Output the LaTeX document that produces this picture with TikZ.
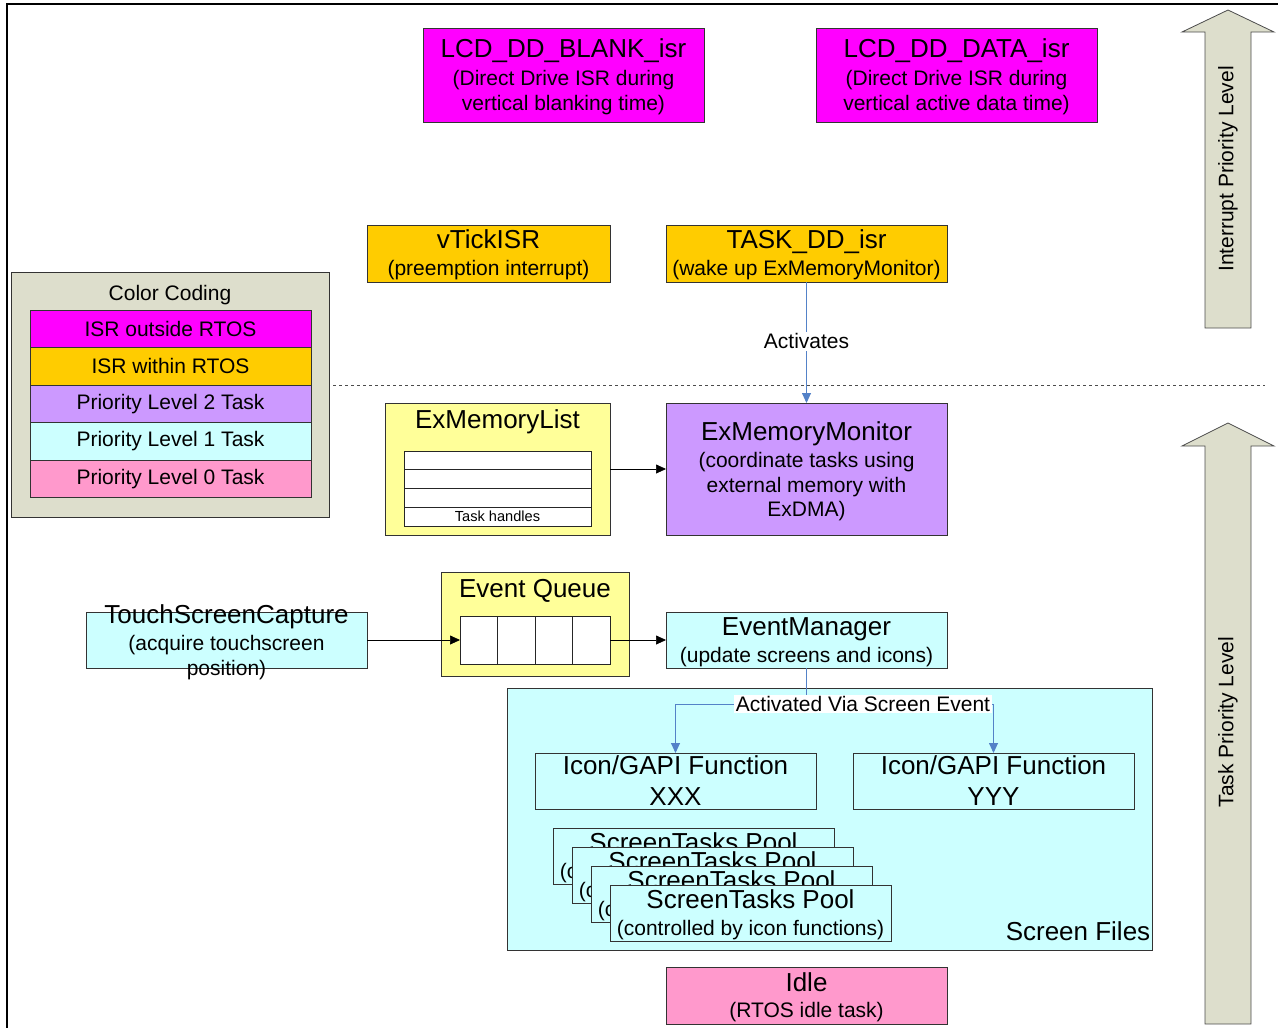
\documentclass[tikz,border=0pt]{standalone}
\usepackage{fontspec}
\setmainfont{Liberation Sans}
\usetikzlibrary{arrows.meta}
\definecolor{cmag}{RGB}{255,0,255}
\definecolor{corange}{RGB}{255,204,0}
\definecolor{cpurple}{RGB}{204,153,255}
\definecolor{ccyan}{RGB}{204,255,255}
\definecolor{cpink}{RGB}{255,153,204}
\definecolor{cyellow}{RGB}{255,255,153}
\definecolor{colive}{RGB}{221,222,204}
\definecolor{cblue}{RGB}{84,130,200}
\newcommand\ttl[1]{{\fontsize{26}{30}\selectfont #1}}
\newcommand\subf{\fontsize{21}{24.5}\selectfont}
\newcommand\ttlf{\fontsize{26}{31}\selectfont}
\begin{document}
\begin{tikzpicture}[x=1pt,y=-1pt,
  box/.style={draw=black!80, line width=0.8pt, minimum width=281pt, minimum height=56pt, inner sep=0pt, outer sep=0pt},
  txt/.style={align=center, inner sep=0pt, font=\subf},
  blk/.style={-{Triangle[length=10pt,width=9pt]}, line width=0.7pt},
  blu/.style={draw=cblue, line width=0.9pt},
  bluarr/.style={blu, -{Triangle[length=10pt,width=9pt]}},
  bigarrow/.style={draw=black!70, fill=colive, line width=0.8pt},
  cell/.style={draw=black!85, fill=white, line width=0.8pt, inner sep=0pt, outer sep=0pt}]

\useasboundingbox (0,0) rectangle (1278,1028);

% frame
\draw[line width=2pt] (7,1028) -- (7,4) -- (1278,4);

% priority arrows
\draw[bigarrow] (1205,328) -- (1205,32) -- (1182,32) -- (1228,10) -- (1274,32) -- (1251,32) -- (1251,328) -- cycle;
\node[txt, rotate=90] (intlbl) at (1228,169) {Interrupt Priority Level};
\draw[bigarrow] (1205,1024) -- (1205,446) -- (1182,446) -- (1228,423) -- (1274,446) -- (1251,446) -- (1251,1024) -- cycle;
\node[txt, rotate=90] (tasklbl) at (1228,722) {Task Priority Level};

% dashed separator
\draw[dashed, black!70, line width=0.7pt] (333,385) -- (1265,385);

% ISR outside RTOS
\node[box, fill=cmag, minimum height=94pt] (blank) at (563.5,75) {};
\node[txt] (blankt) at (563.5,76.5) {\ttl{LCD\_DD\_BLANK\_isr}\\[4pt](Direct Drive ISR during\\vertical blanking time)};
\node[box, fill=cmag, minimum height=94pt] (data) at (956.5,75) {};
\node[txt] (datat) at (956.5,76.5) {\ttl{LCD\_DD\_DATA\_isr}\\[4pt](Direct Drive ISR during\\vertical active data time)};

% ISR within RTOS
\node[box, fill=corange, minimum width=243pt, minimum height=57pt] (tick) at (488.5,253.5) {};
\node[txt] (tickt) at (488.5,255) {\ttl{vTickISR}\\[2pt](preemption interrupt)};
\node[box, fill=corange, minimum height=57pt] (taskdd) at (806.5,253.5) {};
\node[txt] (taskddt) at (806.5,255) {\ttl{TASK\_DD\_isr}\\[2pt](wake up ExMemoryMonitor)};

% legend
\node[box, fill=colive, minimum width=318pt, minimum height=245pt] (legend) at (170,394.5) {};
\node[txt] (legendt) at (170,295) {Color Coding};
\node[box, fill=cmag, minimum height=37.5pt, font=\subf] (l1) at (170.5,328.75) {ISR outside RTOS};
\node[box, fill=corange, minimum height=37.5pt, font=\subf] (l2) at (170.5,366.25) {ISR within RTOS};
\node[box, fill=cpurple, minimum height=37.5pt, font=\subf] (l3) at (170.5,403.75) {Priority Level 2 Task};
\node[box, fill=ccyan, minimum height=37.5pt, font=\subf] (l4) at (170.5,441.25) {Priority Level 1 Task};
\node[box, fill=cpink, minimum height=37.5pt, font=\subf] (l5) at (170.5,478.75) {Priority Level 0 Task};

% ExMemoryList
\node[box, fill=cyellow, minimum width=225pt, minimum height=132pt] (exlist) at (497.5,469) {};
\node[txt] (exlistt) at (497.5,422) {\ttl{ExMemoryList}};
\node[cell, minimum width=187pt, minimum height=18.75pt] (r1) at (497.5,460.4) {};
\node[cell, minimum width=187pt, minimum height=18.75pt] (r2) at (497.5,479.1) {};
\node[cell, minimum width=187pt, minimum height=18.75pt] (r3) at (497.5,497.9) {};
\node[cell, minimum width=187pt, minimum height=18.75pt, font=\fontsize{14.6}{16}\selectfont] (r4) at (497.5,516.6) {Task handles};

% ExMemoryMonitor
\node[box, fill=cpurple, minimum height=132pt] (exmon) at (806.5,469) {};
\node[txt] (exmont) at (806.5,471) {\ttl{ExMemoryMonitor}\\[3pt](coordinate tasks using\\external memory with\\ExDMA)};

% Event queue
\node[box, fill=cyellow, minimum width=188pt, minimum height=104pt] (queue) at (535,624) {};
\node[txt] (queuet) at (535,591) {\ttl{Event Queue}};
\node[cell, minimum width=37.5pt, minimum height=48pt] (c1) at (478.75,640) {};
\node[cell, minimum width=37.5pt, minimum height=48pt] (c2) at (516.25,640) {};
\node[cell, minimum width=37.5pt, minimum height=48pt] (c3) at (553.75,640) {};
\node[cell, minimum width=37.5pt, minimum height=48pt] (c4) at (591.25,640) {};

% TouchScreenCapture
\node[box, fill=ccyan] (tsc) at (226.5,640) {};
\node[txt] (tsct) at (226.5,642) {\ttl{TouchScreenCapture}\\[3pt](acquire touchscreen\\position)};

% EventManager
\node[box, fill=ccyan] (evm) at (806.5,640) {};
\node[txt] (evmt) at (806.5,642) {\ttl{EventManager}\\[2pt](update screens and icons)};

% Screen files region
\node[box, fill=ccyan, minimum width=645pt, minimum height=262pt] (screen) at (829.5,819) {};
\node[txt, font=\fontsize{26}{30}\selectfont] (screent) at (1078,931) {Screen Files};

\node[box, fill=ccyan] (iconx) at (675.5,781) {};
\node[txt, font=\ttlf] (iconxt) at (675.5,781) {Icon/GAPI Function\\XXX};
\node[box, fill=ccyan] (icony) at (993.5,781) {};
\node[txt, font=\ttlf] (iconyt) at (993.5,781) {Icon/GAPI Function\\YYY};

\foreach \i/\x/\y in {1/693.5/856, 2/712.5/875, 3/731.5/894, 4/750.5/913} {
  \node[box, fill=ccyan] (pool\i) at (\x,\y) {};
  \node[txt] (pool\i t) at (\x,\y+1.5) {\ttl{ScreenTasks Pool}\\[3pt](controlled by icon functions)};
}

% Idle
\node[box, fill=cpink, minimum height=57pt] (idle) at (806.5,995.5) {};
\node[txt] (idlet) at (806.5,997) {\ttl{Idle}\\[2pt](RTOS idle task)};

% connectors
\draw[bluarr] (taskdd.south) -- (exmon.north) node[pos=0.49, fill=white, inner sep=2pt, font=\subf, text=black] (actlbl) {Activates};
\draw[blk] (exlist.east) -- (exmon.west);
\draw[blk] (tsc.east) -- (c1.west);
\draw[blk] (c4.east) -- (evm.west);
\draw[blu] (evm.south) -- ++(0,36) coordinate (jn);
\draw[bluarr] (jn) -| (iconx.north);
\draw[bluarr] (jn) -| (icony.north);
\node[fill=white, inner sep=1.5pt, font=\subf] (scrlbl) at (863,704) {Activated Via Screen Event};
\end{tikzpicture}
\end{document}
